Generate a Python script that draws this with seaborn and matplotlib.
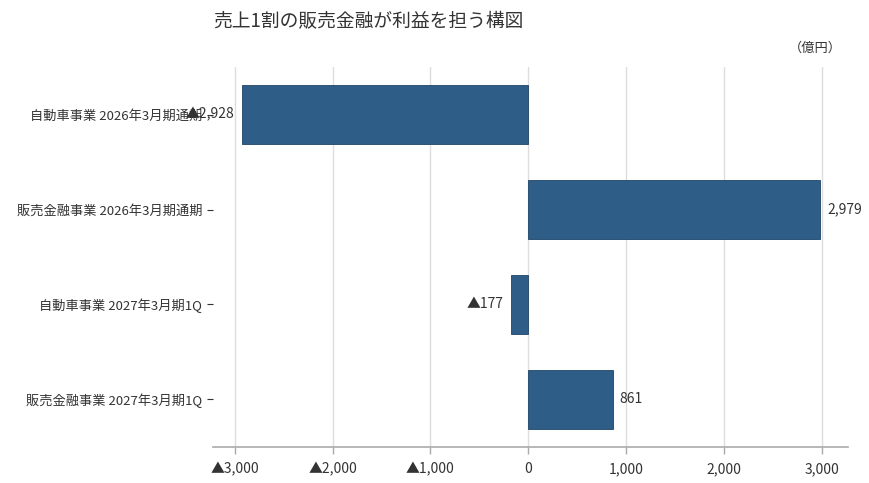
#!/usr/bin/env python3
"""Horizontal bar chart: auto vs. sales finance operating profit"""
import matplotlib
matplotlib.use('Agg')
import matplotlib.pyplot as plt
import matplotlib.ticker as mticker
import seaborn as sns
import pandas as pd

# Data (億円)
categories = [
    '自動車事業 2026年3月期通期',
    '販売金融事業 2026年3月期通期',
    '自動車事業 2027年3月期1Q',
    '販売金融事業 2027年3月期1Q',
]
profits = [-2928, 2979, -177, 861]
x_ticks = [-3000, -2000, -1000, 0, 1000, 2000, 3000]

title = '売上1割の販売金融が利益を担う構図'
unit_label = '（億円）'

sns.set_theme(style='whitegrid')
plt.rcParams['font.family'] = ['Noto Sans CJK JP', 'DejaVu Sans']

bar_color = '#2e5d87'
text_color = '#333333'


def fmt_value(v):
    """Negative numbers shown with a ▲ prefix"""
    if v < 0:
        return f'▲{abs(v):,.0f}'
    return f'{v:,.0f}'


df = pd.DataFrame({'category': categories, 'profit': profits})

fig = plt.figure(figsize=(8.7, 4.83), dpi=100)
ax = fig.add_axes([0.245, 0.075, 0.73, 0.786])

sns.barplot(data=df, x='profit', y='category', orient='h', color=bar_color,
            saturation=1, width=0.62, edgecolor='#1f4466', linewidth=0.6, ax=ax)

# value labels
for i, v in enumerate(profits):
    offset = 75 if v >= 0 else -75
    ax.text(v + offset, i, fmt_value(v), va='center',
            ha='left' if v >= 0 else 'right',
            fontsize=10, color=text_color)

ax.set_xlim(-3220, 3270)
ax.set_ylim(3.5, -0.5)
ax.set_xticks(x_ticks)
ax.xaxis.set_major_formatter(mticker.FuncFormatter(lambda v, _: fmt_value(v)))
ax.set_xlabel('')
ax.set_ylabel('')

ax.grid(axis='x', color='#dddddd', linewidth=1)
ax.grid(axis='y', visible=False)
for side in ['left', 'top', 'right']:
    ax.spines[side].set_visible(False)
ax.spines['bottom'].set_color('#aaaaaa')
ax.spines['bottom'].set_linewidth(1.2)

ax.tick_params(axis='x', bottom=True, length=5, width=1, color='#aaaaaa',
               labelsize=10, labelcolor=text_color, pad=6)
ax.tick_params(axis='y', left=True, length=4, width=0.8, color=text_color,
               labelsize=9.5, labelcolor=text_color, pad=4)

fig.text(0.245, 1 - 22 / 483, title, fontsize=13.5, color=text_color,
         ha='left', va='center')
fig.text(0.968, 1 - 48 / 483, unit_label, fontsize=9.5, color=text_color,
         ha='right', va='center')

fig.savefig('out.png', dpi=100, facecolor='white')
